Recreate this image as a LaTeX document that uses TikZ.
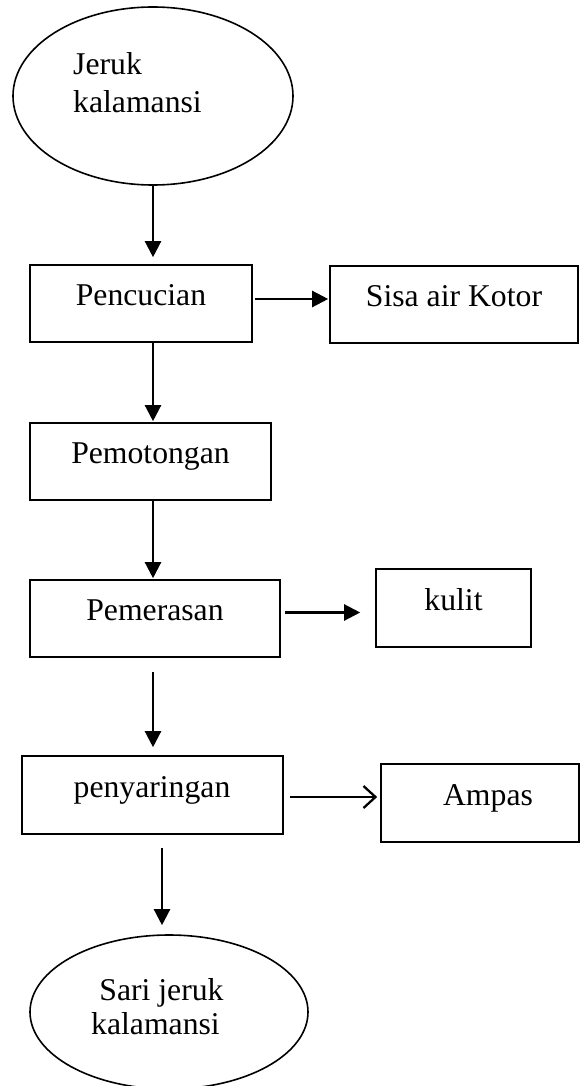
\documentclass[tikz,border=0pt]{standalone}
\usepackage{fontspec}
\setmainfont{Liberation Serif}
\usetikzlibrary{arrows.meta,calc,shapes.geometric}
\begin{document}
\begin{tikzpicture}[x=1pt,y=-1pt,
  box/.style={draw,line width=1.6pt,rectangle,inner sep=0pt},
  oval/.style={draw,line width=1.6pt,ellipse,inner sep=0pt},
  lbl/.style={inner sep=0pt,anchor=base,font=\fontsize{31.7}{38}\selectfont},
  arr/.style={line width=2.3pt,-{Triangle[length=16pt,width=16pt]}},
  openarr/.style={line width=2.3pt,-{Straight Barb[length=12pt,width=22pt]}}]
\useasboundingbox (0,0) rectangle (580,1086);

% process boxes and terminals
\node[oval,minimum width=280pt,minimum height=178pt] (te) at (153,96) {};
\node[box,minimum width=222pt,minimum height=77pt] (pc) at (141,303.5) {};
\node[box,minimum width=248pt,minimum height=77pt] (sk) at (454,304.5) {};
\node[box,minimum width=241pt,minimum height=77pt] (pm) at (150.5,461.5) {};
\node[box,minimum width=250pt,minimum height=77pt] (pr) at (155,618.5) {};
\node[box,minimum width=155pt,minimum height=78pt] (kl) at (453.5,608) {};
\node[box,minimum width=261pt,minimum height=78pt] (py) at (152.5,795) {};
\node[box,minimum width=198pt,minimum height=78pt] (am) at (480,803) {};
\node[oval,minimum width=278pt,minimum height=154pt] (sj) at (169,1012) {};

% labels
\node[lbl,anchor=base west] (t1a) at (73,75) {Jeruk};
\node[lbl,anchor=base west] (t1b) at (73,112.7) {kalamansi};
\node[lbl] (t2) at (141,305) {Pencucian};
\node[lbl] (t3) at (454,306) {Sisa air Kotor};
\node[lbl] (t4) at (150.5,463) {Pemotongan};
\node[lbl] (t5) at (155,620) {Pemerasan};
\node[lbl] (t6) at (453.5,610) {kulit};
\node[lbl] (t7) at (152,797) {penyaringan};
\node[lbl] (t8) at (488,805) {Ampas};
\node[lbl] (t9a) at (161.5,1000.7) {Sari jeruk};
\node[lbl] (t9b) at (155.5,1034) {kalamansi};

% connectors
\draw[arr] (te.south) -- ($(pc.north)+(12,-7)$);
\draw[arr] ($(pc.east)+(2,-4.5)$) -- ($(sk.west)+(-1,-5.5)$);
\draw[arr] ($(pc.south)+(12,0)$) -- ($(pm.north)+(2.5,-1)$);
\draw[arr] ($(pm.south)+(2.5,0)$) -- ($(pr.north)+(-2,-1)$);
\draw[arr] ($(pr.east)+(4,-6)$) -- ($(kl.west)+(-15,4.5)$);
\draw[arr] ($(pr.south)+(-2,14)$) -- ($(py.north)+(0.5,-8)$);
\draw[openarr] ($(py.east)+(6,2)$) -- ($(am.west)+(-3,-6)$);
\draw[arr] ($(py.south)+(9.5,13)$) -- ($(sj.north)+(-7,-9)$);
\end{tikzpicture}
\end{document}
